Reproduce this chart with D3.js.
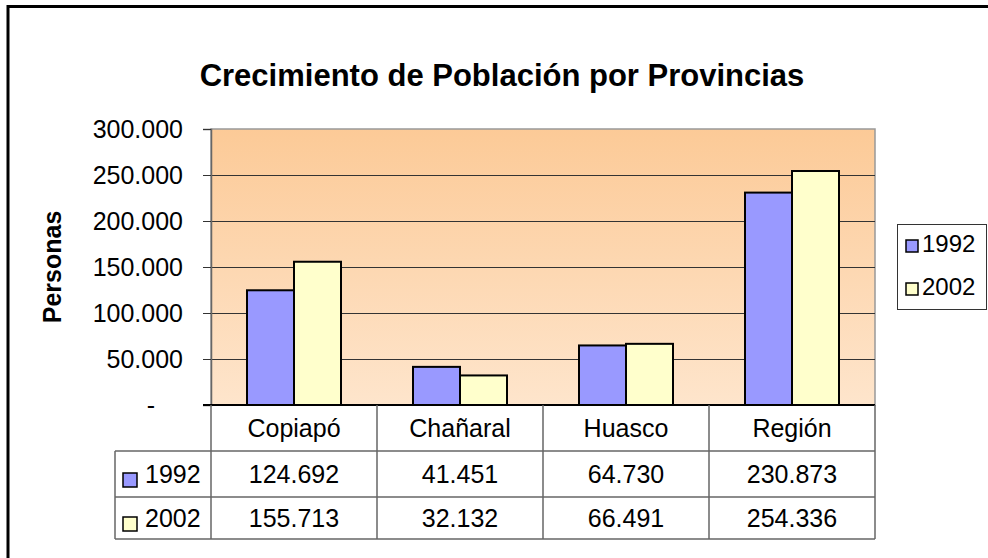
<!DOCTYPE html>
<html>
<head>
	<meta charset="utf-8">
	<title>Crecimiento de Población por Provincias</title>
	<style type="text/css">
		body {
			margin: 0;
			background: #fff;
		}
		svg text {
			font-family: "Liberation Sans", Arial, sans-serif;
			fill: #000;
		}
	</style>
</head>
<body>
<div id="chart"></div>
<script src="https://d3js.org/d3.v7.min.js"></script>
<script>

var categories = ["Copiapó", "Chañaral", "Huasco", "Región"];
var series = ["1992", "2002"];
var values1992 = [124692, 41451, 64730, 230873];
var values2002 = [155713, 32132, 66491, 254336];
var yTicks = [0, 50000, 100000, 150000, 200000, 250000, 300000];

var colors = { "1992": "#9999FF", "2002": "#FFFFCC" };

var width = 988;
var height = 558;

// plot area, pixel box
var plot = { left: 211, right: 875, top: 129, bottom: 405 };

var locale = d3.formatLocale({ decimal: ",", thousands: ".", grouping: [3], currency: ["$", ""] });
var fmt = locale.format(",d");

var rows = series.map(function(s, i) {
	return { name: s, values: i === 0 ? values1992 : values2002 };
});

var data = categories.map(function(c, i) {
	return { category: c, values: rows.map(function(r) { return { key: r.name, value: r.values[i] }; }) };
});

var svg = d3.select("#chart").append("svg")
	.attr("width", width)
	.attr("height", height);

// outer frame (cut by the picture on the right and bottom)
svg.append("rect")
	.attr("x", 8)
	.attr("y", 6.5)
	.attr("width", width + 20)
	.attr("height", height + 20)
	.attr("fill", "#fff")
	.attr("stroke", "#000")
	.attr("stroke-width", 3);

var defs = svg.append("defs");
var grad = defs.append("linearGradient")
	.attr("id", "bg")
	.attr("x1", 0).attr("y1", 0)
	.attr("x2", 0).attr("y2", 1);
grad.append("stop").attr("offset", "0%").attr("stop-color", "#FCCA97");
grad.append("stop").attr("offset", "100%").attr("stop-color", "#FEE5CC");

var x0 = d3.scaleBand()
	.domain(categories)
	.range([plot.left, plot.right])
	.padding(0);

var x1 = d3.scaleBand()
	.domain(series)
	.range([0, x0.bandwidth()])
	.paddingInner(0)
	.paddingOuter(0.766);

var y = d3.scaleLinear()
	.domain([0, 300000])
	.range([plot.bottom, plot.top]);

// title
svg.append("text")
	.attr("x", 502)
	.attr("y", 86)
	.attr("text-anchor", "middle")
	.attr("font-size", "31px")
	.attr("font-weight", "bold")
	.text("Crecimiento de Población por Provincias");

// plot background
svg.append("rect")
	.attr("x", plot.left)
	.attr("y", plot.top)
	.attr("width", plot.right - plot.left)
	.attr("height", plot.bottom - plot.top)
	.attr("fill", "url(#bg)")
	.attr("stroke", "#999")
	.attr("stroke-width", 1.5);

// gridlines
svg.append("g")
	.selectAll("line")
	.data(yTicks.filter(function(d) { return d > 0 && d < 300000; }))
	.join("line")
		.attr("x1", plot.left)
		.attr("x2", plot.right)
		.attr("y1", function(d) { return Math.round(y(d)) + 0.5; })
		.attr("y2", function(d) { return Math.round(y(d)) + 0.5; })
		.attr("stroke", "#333")
		.attr("stroke-width", 1);

// y axis
var yAxis = svg.append("g")
	.attr("transform", "translate(" + plot.left + ",0)")
	.call(d3.axisLeft(y)
		.tickValues(yTicks)
		.tickSize(8)
		.tickPadding(20)
		.tickFormat(function(d) { return d === 0 ? "-" : fmt(d); }));

yAxis.select(".domain").attr("stroke", "#666").attr("stroke-width", 1.5);
yAxis.selectAll(".tick line").attr("stroke", "#333");
yAxis.selectAll(".tick text")
	.attr("font-size", "25px")
	.attr("font-family", "Liberation Sans, Arial, sans-serif")
	.attr("fill", "#000")
	.attr("dx", function(d) { return d === 0 ? -28 : 0; });

svg.append("text")
	.attr("transform", "translate(61," + ((plot.top + plot.bottom) / 2) + ") rotate(-90)")
	.attr("text-anchor", "middle")
	.attr("font-size", "25px")
	.attr("font-weight", "bold")
	.text("Personas");

// bars
svg.append("g")
	.selectAll("g")
	.data(data)
	.join("g")
		.attr("transform", function(d) { return "translate(" + x0(d.category) + ",0)"; })
	.selectAll("rect")
	.data(function(d) { return d.values; })
	.join("rect")
		.attr("x", function(d) { return x1(d.key); })
		.attr("y", function(d) { return y(d.value); })
		.attr("width", x1.bandwidth())
		.attr("height", function(d) { return y(0) - y(d.value); })
		.attr("fill", function(d) { return colors[d.key]; })
		.attr("stroke", "#000")
		.attr("stroke-width", 2);

// zero line
svg.append("line")
	.attr("x1", plot.left - 8)
	.attr("x2", plot.right)
	.attr("y1", y(0))
	.attr("y2", y(0))
	.attr("stroke", "#000")
	.attr("stroke-width", 2);

// data table under the plot
var table = { left: 115, rowBottom: 539 };
var tableLines = svg.append("g")
	.attr("stroke", "#666")
	.attr("stroke-width", 1.5);

tableLines.selectAll("line.h")
	.data([451, 497, 539])
	.join("line")
		.attr("class", "h")
		.attr("x1", table.left)
		.attr("x2", plot.right)
		.attr("y1", function(d) { return d; })
		.attr("y2", function(d) { return d; });

tableLines.selectAll("line.v")
	.data(categories.map(function(c) { return x0(c); }).concat([plot.right]))
	.join("line")
		.attr("class", "v")
		.attr("x1", function(d) { return d; })
		.attr("x2", function(d) { return d; })
		.attr("y1", 405)
		.attr("y2", table.rowBottom);

tableLines.append("line")
	.attr("x1", table.left)
	.attr("x2", table.left)
	.attr("y1", 451)
	.attr("y2", table.rowBottom);

// header: category names
svg.append("g")
	.selectAll("text")
	.data(categories)
	.join("text")
		.attr("x", function(d) { return x0(d) + x0.bandwidth() / 2; })
		.attr("y", 428)
		.attr("dy", "0.35em")
		.attr("text-anchor", "middle")
		.attr("font-size", "25px")
		.text(function(d) { return d; });

var rowCenters = [474, 518];

var tableRow = svg.append("g")
	.selectAll("g")
	.data(rows)
	.join("g")
		.attr("transform", function(d, i) { return "translate(0," + rowCenters[i] + ")"; });

tableRow.append("rect")
	.attr("x", 123)
	.attr("y", -1)
	.attr("width", 14)
	.attr("height", 14)
	.attr("fill", function(d) { return colors[d.name]; })
	.attr("stroke", "#000")
	.attr("stroke-width", 1.5);

tableRow.append("text")
	.attr("x", 145)
	.attr("dy", "0.35em")
	.attr("font-size", "25px")
	.text(function(d) { return d.name; });

tableRow.selectAll("text.val")
	.data(function(d) { return d.values; })
	.join("text")
		.attr("class", "val")
		.attr("x", function(d, i) { return x0(categories[i]) + x0.bandwidth() / 2; })
		.attr("dy", "0.35em")
		.attr("text-anchor", "middle")
		.attr("font-size", "25px")
		.text(function(d) { return fmt(d); });

// legend at the right
var legend = svg.append("g");

legend.append("rect")
	.attr("x", 897.5)
	.attr("y", 224.5)
	.attr("width", 89)
	.attr("height", 85)
	.attr("fill", "#fff")
	.attr("stroke", "#333")
	.attr("stroke-width", 1);

var legendItem = legend.selectAll("g")
	.data(series)
	.join("g")
		.attr("transform", function(d, i) { return "translate(0," + (244 + i * 43) + ")"; });

legendItem.append("rect")
	.attr("x", 906)
	.attr("y", -4)
	.attr("width", 12)
	.attr("height", 12)
	.attr("fill", function(d) { return colors[d]; })
	.attr("stroke", "#000")
	.attr("stroke-width", 1.5);

legendItem.append("text")
	.attr("x", 922)
	.attr("dy", "0.35em")
	.attr("font-size", "24px")
	.text(function(d) { return d; });

</script>
</body>
</html>
